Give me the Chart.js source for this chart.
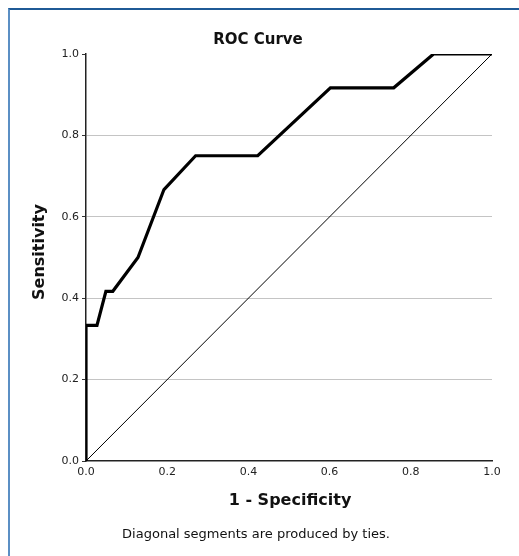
<!DOCTYPE html>
<html>
<head>
<meta charset="utf-8">
<script src="https://cdn.jsdelivr.net/npm/chart.js@4.4.1/dist/chart.umd.min.js"></script>
<style>
  body { margin: 0; background: #fff; }
  #wrap { position: relative; width: 519px; height: 556px; overflow: hidden; }
  #frame { position: absolute; left: 8px; top: 8px; right: -4px; bottom: -4px;
           border-top: 2px solid #1f5a96; border-left: 2px solid #5b8fc4; }
  canvas { position: absolute; left: 0; top: 0; }
</style>
</head>
<body>
<div id="wrap">
  <div id="frame"></div>
  <canvas id="myChart" width="519" height="556"></canvas>
</div>
<script>
// ROC curve
const fpr = [0, 0, 0.027, 0.049, 0.066, 0.128, 0.192, 0.270, 0.423, 0.602, 0.758, 0.856, 1];
const tpr = [0, 0.333, 0.333, 0.417, 0.417, 0.5, 0.667, 0.75, 0.75, 0.917, 0.917, 1, 1];
const refX = [0, 1];
const refY = [0, 1];
const tickValues = [0, 0.2, 0.4, 0.6, 0.8, 1.0];

const chartTitle = "ROC Curve";
const xTitle = "1 - Specificity";
const yTitle = "Sensitivity";
const footNote = "Diagonal segments are produced by ties.";

const toPoints = (xs, ys) => xs.map((x, i) => ({ x: x, y: ys[i] }));

// titles and footnote drawn at their places in the picture
const textPlugin = {
  id: "texts",
  afterDraw: chart => {
    const ctx = chart.ctx;
    ctx.save();
    ctx.fillStyle = "#111";
    ctx.textAlign = "center";
    ctx.textBaseline = "middle";
    ctx.font = "bold 15px 'DejaVu Sans'";
    ctx.fillText(chartTitle, 258, 40);
    ctx.font = "bold 16px 'DejaVu Sans'";
    ctx.fillText(xTitle, 290, 501);
    ctx.save();
    ctx.translate(40, 252);
    ctx.rotate(-Math.PI / 2);
    ctx.fillText(yTitle, 0, 0);
    ctx.restore();
    ctx.font = "13px 'DejaVu Sans'";
    ctx.fillText(footNote, 256, 535);
    ctx.restore();
  }
};

const ctx = document.getElementById("myChart").getContext("2d");
const chart = new Chart(ctx, {
  type: "scatter",
  data: {
    datasets: [{
      data: toPoints(fpr, tpr),
      showLine: true,
      borderColor: "#000",
      borderWidth: 3.2,
      pointRadius: 0,
      tension: 0
    }, {
      data: toPoints(refX, refY),
      showLine: true,
      borderColor: "#000",
      borderWidth: 1,
      pointRadius: 0
    }]
  },
  options: {
    responsive: false,
    animation: false,
    layout: { padding: { left: 0, right: 27, top: 54, bottom: 0 } },
    plugins: { legend: { display: false }, tooltip: { enabled: false } },
    scales: {
      x: {
        type: "linear",
        min: 0, max: 1,
        afterFit: s => { s.height = 95; },
        afterBuildTicks: s => { s.ticks = tickValues.map(v => ({ value: v })); },
        grid: { display: false, drawTicks: false },
        border: { display: true, color: "#222", width: 1.5 },
        ticks: {
          padding: 5,
          color: "#222",
          font: { family: "DejaVu Sans", size: 11 },
          callback: v => v.toFixed(1)
        }
      },
      y: {
        type: "linear",
        min: 0, max: 1,
        afterFit: s => { s.width = 86; },
        afterBuildTicks: s => { s.ticks = tickValues.map(v => ({ value: v })); },
        grid: {
          color: c => (c.tick && c.tick.value > 0 && c.tick.value < 1) ? "#c4c4c4" : "rgba(0,0,0,0)",
          tickColor: "#333",
          tickLength: 4
        },
        border: { display: true, color: "#222", width: 1.5 },
        ticks: {
          padding: 3,
          color: "#222",
          font: { family: "DejaVu Sans", size: 11 },
          callback: v => v.toFixed(1)
        }
      }
    }
  },
  plugins: [textPlugin]
});
</script>
</body>
</html>
